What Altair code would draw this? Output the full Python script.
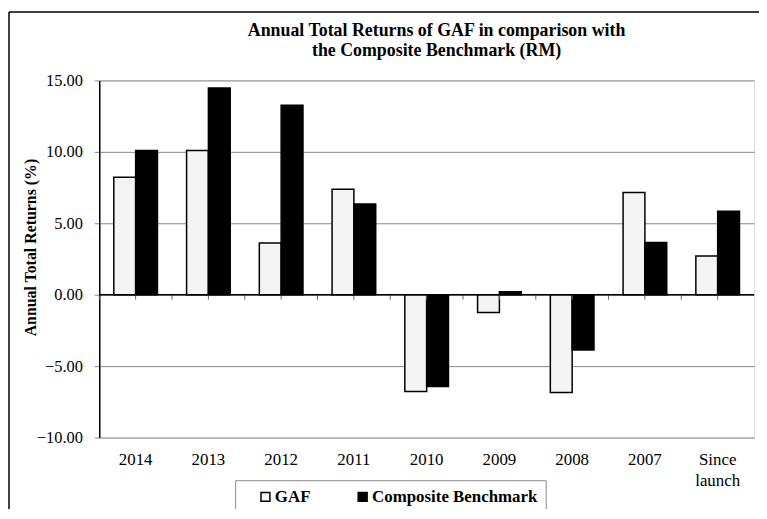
import altair as alt
import pandas as pd

categories = ["2014", "2013", "2012", "2011", "2010", "2009", "2008", "2007", "Since launch"]
gaf = [8.22, 10.10, 3.62, 7.39, -6.77, -1.24, -6.84, 7.15, 2.71]
benchmark = [10.10, 14.47, 13.27, 6.35, -6.42, 0.20, -3.87, 3.66, 5.84]
series_names = ["GAF", "Composite Benchmark"]
y_ticks = [-10, -5, 0, 5, 10, 15]
title_lines = ["Annual Total Returns of GAF in comparison with", "the Composite Benchmark (RM)"]

rows = []
for c, g, b in zip(categories, gaf, benchmark):
    rows.append({"category": c, "series": series_names[0], "value": g})
    rows.append({"category": c, "series": series_names[1], "value": b})
df = pd.DataFrame(rows)
cats_df = pd.DataFrame({"category": categories})
one_df = pd.DataFrame({"k": [0]})

FONT = "Liberation Serif"
W, H = 660, 360

x_scale = alt.Scale(domain=categories, paddingInner=0.4, paddingOuter=0.2)
x_scale_ticks = alt.Scale(domain=categories, paddingInner=0, paddingOuter=0)
y_scale = alt.Scale(domain=[-10, 15], nice=False, zero=False)

bars = alt.Chart(df).mark_bar(stroke="black", strokeWidth=1.5).encode(
    x=alt.X("category:N", sort=categories, scale=x_scale,
            axis=alt.Axis(title=None, orient="bottom", labelAngle=0, labelFont=FONT,
                          labelFontSize=17, labelColor="black", ticks=False, tickSize=0,
                          domain=False, labelPadding=14, labelLineHeight=21,
                          labelExpr="datum.value == 'Since launch' ? ['Since', 'launch'] : datum.value")),
    xOffset=alt.XOffset("series:N", sort=series_names,
                        scale=alt.Scale(domain=series_names, paddingInner=0, paddingOuter=0)),
    y=alt.Y("value:Q", scale=y_scale,
            axis=alt.Axis(title="Annual Total Returns (%)", values=y_ticks, format=".2f",
                          labelFont=FONT, labelFontSize=16.5, labelColor="black",
                          labelPadding=12, tickSize=5, tickColor="#888888",
                          domainColor="black", domainWidth=1.5,
                          gridColor="#888888", gridWidth=1,
                          titleFont=FONT, titleFontSize=16, titleFontWeight="bold",
                          titleColor="black", titleX=-69, titleY=168, titleAngle=270,
                          titleAlign="center", titleBaseline="middle")),
    color=alt.Color("series:N", sort=series_names,
                    scale=alt.Scale(domain=series_names, range=["#f4f4f4", "#000000"]),
                    legend=alt.Legend(title=None, orient="none", legendX=137, legendY=403,
                                      direction="horizontal", labelFont=FONT, labelFontSize=17,
                                      labelFontWeight="bold", labelColor="black", labelLimit=400,
                                      symbolType="square", symbolSize=81,
                                      symbolStrokeColor="black", symbolStrokeWidth=1.5,
                                      strokeColor="#888888", fillColor="white", padding=8,
                                      columnPadding=30, labelOffset=1, symbolOffset=14)),
)

zero = alt.Chart(one_df).mark_rule(color="black", strokeWidth=1.5).encode(
    y=alt.datum(0, type="quantitative", scale=y_scale)
)

ticks_center = alt.Chart(cats_df).mark_rule(color="#666666", strokeWidth=1).encode(
    x=alt.X("category:N", sort=categories, scale=x_scale_ticks, bandPosition=0.5, axis=None),
    y=alt.datum(0, type="quantitative"),
    y2=alt.datum(-0.35),
)
ticks_extent = alt.Chart(cats_df).mark_rule(color="#666666", strokeWidth=1).encode(
    x=alt.X("category:N", sort=categories, scale=x_scale_ticks, bandPosition=0, axis=None),
    y=alt.datum(0, type="quantitative"),
    y2=alt.datum(-0.35),
)

frame_left = alt.Chart(one_df).mark_rule(color="black", strokeWidth=1.5, clip=False).encode(
    x=alt.value(-91), y=alt.value(-69), y2=alt.value(440)
)
frame_top = alt.Chart(one_df).mark_rule(color="black", strokeWidth=1.5, clip=False).encode(
    x=alt.value(-91), x2=alt.value(665), y=alt.value(-69)
)
title = alt.Chart(one_df).mark_text(
    text=title_lines, font=FONT, fontSize=18, fontWeight="bold", color="black",
    align="center", baseline="alphabetic", lineHeight=20, clip=False
).encode(x=alt.value(340), y=alt.value(-45))

chart = alt.layer(
    bars, ticks_center, ticks_extent, zero, frame_left, frame_top, title
).resolve_scale(
    x="independent"
).resolve_axis(
    x="independent"
).properties(
    width=W, height=H,
    autosize=alt.AutoSizeParams(type="none"),
    padding={"left": 92, "top": 71, "right": 5, "bottom": 70},
).configure_view(
    stroke="black", strokeWidth=1.5
).configure(background="white")

chart.save("out.html", embed_options={"renderer": "svg", "actions": False})
